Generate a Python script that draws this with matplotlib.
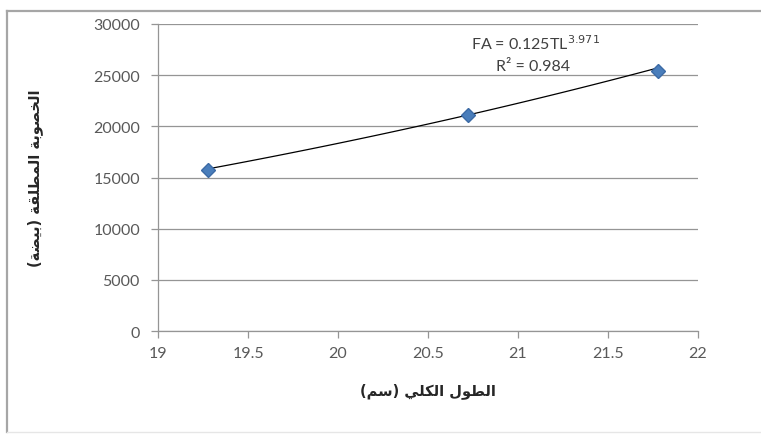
import matplotlib
matplotlib.use("Agg")
import matplotlib.pyplot as plt
import numpy as np
from matplotlib.lines import Line2D

# total length (cm) vs absolute fecundity (eggs)
total_length = [19.28, 20.72, 21.78]
fecundity = [15700, 21100, 25400]

# power trend line FA = a * TL^b
fit_a = 0.125
fit_b = 3.971
fit_r2 = 0.984

x_ticks = [19, 19.5, 20, 20.5, 21, 21.5, 22]
x_tick_labels = ["19", "19.5", "20", "20.5", "21", "21.5", "22"]
y_ticks = [0, 5000, 10000, 15000, 20000, 25000, 30000]

x_title = "الطول الكلي (سم)"
y_title = "الخصوبة المطلقة (بيضة)"

# matplotlib has no Arabic shaping, so pick the contextual forms by hand
# (isolated, final, initial, medial)
FORMS = {
    "ا": ("\uFE8D", "\uFE8E", None, None),
    "ب": ("\uFE8F", "\uFE90", "\uFE91", "\uFE92"),
    "ة": ("\uFE93", "\uFE94", None, None),
    "خ": ("\uFEA5", "\uFEA6", "\uFEA7", "\uFEA8"),
    "س": ("\uFEB1", "\uFEB2", "\uFEB3", "\uFEB4"),
    "ص": ("\uFEB9", "\uFEBA", "\uFEBB", "\uFEBC"),
    "ض": ("\uFEBD", "\uFEBE", "\uFEBF", "\uFEC0"),
    "ط": ("\uFEC1", "\uFEC2", "\uFEC3", "\uFEC4"),
    "ق": ("\uFED5", "\uFED6", "\uFED7", "\uFED8"),
    "ك": ("\uFED9", "\uFEDA", "\uFEDB", "\uFEDC"),
    "ل": ("\uFEDD", "\uFEDE", "\uFEDF", "\uFEE0"),
    "م": ("\uFEE1", "\uFEE2", "\uFEE3", "\uFEE4"),
    "و": ("\uFEED", "\uFEEE", None, None),
    "ي": ("\uFEF1", "\uFEF2", "\uFEF3", "\uFEF4"),
}


def shape_arabic(text):
    out = []
    for i, c in enumerate(text):
        if c not in FORMS:
            out.append(c)
            continue
        prev = text[i - 1] if i > 0 else None
        nxt = text[i + 1] if i + 1 < len(text) else None
        join_prev = prev in FORMS and FORMS[prev][2] is not None
        join_next = nxt in FORMS and FORMS[c][2] is not None
        iso, fin, ini, med = FORMS[c]
        if join_prev and join_next:
            out.append(med)
        elif join_prev:
            out.append(fin)
        elif join_next:
            out.append(ini)
        else:
            out.append(iso)
    visual = "".join(reversed(out))
    return visual.translate(str.maketrans("()", ")("))


plt.rcParams["font.family"] = ["Lato", "DejaVu Sans"]

W, H = 761, 439
fig = plt.figure(figsize=(W / 100, H / 100), dpi=100)
ax = fig.add_axes([158 / W, 1 - 332 / H, 540 / W, 307 / H])

grid_col = "#959595"
text_col = "#595959"

# outer chart border
border = dict(color="#a6a6a6", linewidth=1.6, transform=fig.transFigure)
fig.add_artist(Line2D([7 / W, 1.0], [1 - 12 / H, 1 - 12 / H], **border))
fig.add_artist(Line2D([7 / W, 7 / W], [1 - 12 / H, 1 - 433 / H], **border))
fig.add_artist(Line2D([7 / W, 1.0], [1 - 433 / H, 1 - 433 / H],
                      color="#e6e6e6", linewidth=1.0, transform=fig.transFigure))

# trend line from the fitted equation
tl = np.linspace(min(total_length), max(total_length), 100)
ax.plot(tl, fit_a * tl ** fit_b, color="black", linewidth=0.9, zorder=3)

ax.plot(total_length, fecundity, linestyle="none", marker="D", markersize=7.5,
        color="#4a7ebb", markeredgecolor="#3c6aa5", zorder=4)

ax.set_xlim(19, 22)
ax.set_ylim(0, 30000)
ax.set_xticks(x_ticks)
ax.set_xticklabels(x_tick_labels)
ax.set_yticks(y_ticks)

ax.grid(axis="y", color=grid_col, linewidth=0.9)
ax.set_axisbelow(True)
for side in ["top", "right"]:
    ax.spines[side].set_visible(False)
for side in ["left", "bottom"]:
    ax.spines[side].set_color(grid_col)
    ax.spines[side].set_linewidth(0.9)
ax.tick_params(colors=grid_col, labelcolor=text_col, labelsize=11.5,
               length=5, width=0.9, direction="out")
ax.tick_params(axis="x", pad=6)
ax.tick_params(axis="y", pad=8)

ax.set_xlabel(shape_arabic(x_title), fontsize=10.5, fontweight="bold",
              color="#262626", family="DejaVu Sans", labelpad=16)
ax.set_ylabel(shape_arabic(y_title), fontsize=10.5, fontweight="bold",
              color="#262626", family="DejaVu Sans", labelpad=36)

ax.text(535 / W, 1 - 44 / H,
        "FA = %gTL$^{%g}$" % (fit_a, fit_b), transform=fig.transFigure,
        ha="center", va="center", fontsize=11.5, color="#404040")
ax.text(533 / W, 1 - 67 / H,
        "R² = %g" % fit_r2, transform=fig.transFigure,
        ha="center", va="center", fontsize=11.5, color="#404040")

fig.savefig("out.png", dpi=100)
